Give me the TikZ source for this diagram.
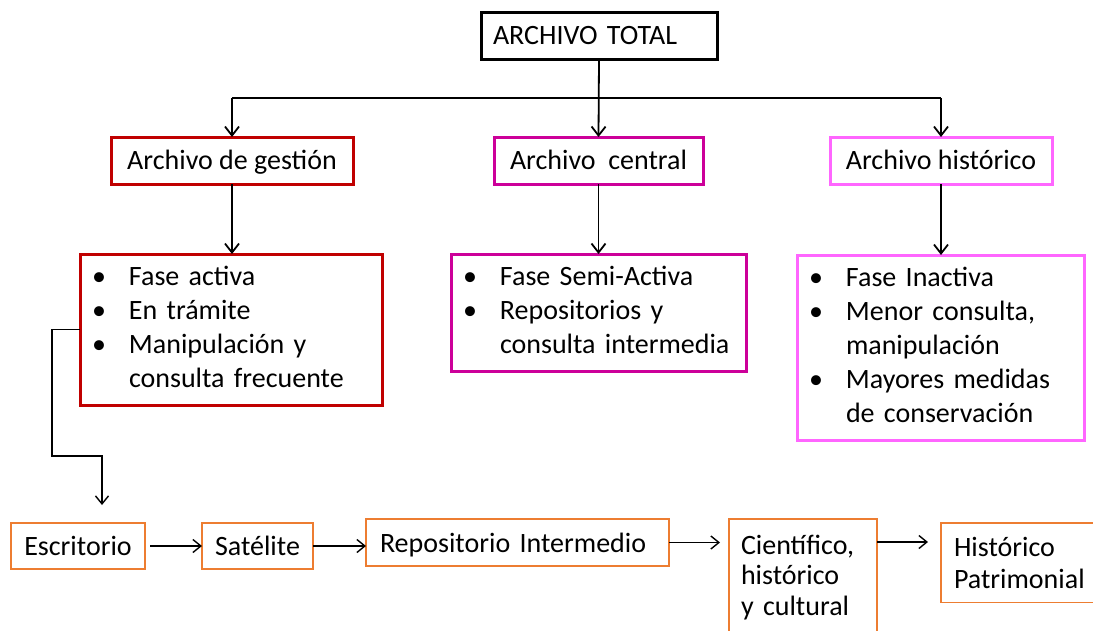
\documentclass[tikz,border=0pt]{standalone}
\usepackage{fontspec}
\setmainfont{Carlito}
\usetikzlibrary{arrows.meta}

\definecolor{gestionred}{HTML}{C00000}
\definecolor{centralmag}{HTML}{CC0099}
\definecolor{historicpink}{HTML}{FF66FF}
\definecolor{etapaorange}{HTML}{ED7D31}

\tikzset{
  every node/.style={font=\fontsize{28}{34}\selectfont},
  titlebox/.style={draw, line width=3pt, minimum height=47pt, text height=22pt, text depth=5pt, inner sep=0pt, outer sep=0pt},
  fasebox/.style={draw, line width=3pt, anchor=north west, align=left, inner xsep=12pt, inner ysep=0pt, outer sep=0pt},
  etapabox/.style={draw=etapaorange, line width=1.8pt, inner sep=0pt, outer sep=0pt},
  link/.style={line width=1.8pt, -{Straight Barb[length=9pt,width=14pt]}},
  etapalink/.style={line width=1.4pt, -{Straight Barb[length=8pt,width=13pt]}},
}
\newcommand{\fases}[1]{\begin{tabular}{@{}p{37pt}@{}l@{}}#1\end{tabular}}

\begin{document}
\begin{tikzpicture}[x=1pt,y=-1pt]
  \useasboundingbox (0,0) rectangle (1093,630);
  \clip (0,0) rectangle (1093,630);

  % niveles del archivo
  \node[titlebox, anchor=north west, text width=212pt, inner xsep=12pt, align=left] (total) at (481,12) {ARCHIVO TOTAL};
  \node[titlebox, draw=gestionred, minimum width=242pt] (gestion) at (232,160.5) {Archivo de gestión};
  \node[titlebox, draw=centralmag, minimum width=209pt] (central) at (598.5,160.5) {Archivo\ \ central};
  \node[titlebox, draw=historicpink, minimum width=222pt] (historico) at (941,160.5) {Archivo histórico};

  % fases
  \node[fasebox, draw=gestionred, text width=278pt, minimum height=151pt] (gestionfases) at (80,254)
    {\fases{\textbullet & Fase activa\\ \textbullet & En trámite\\ \textbullet & Manipulación y\\ & consulta frecuente}};
  \node[fasebox, draw=centralmag, text width=271pt, minimum height=117pt] (centralfases) at (451,254)
    {\fases{\textbullet & Fase Semi-Activa\\ \textbullet & Repositorios y\\ & consulta intermedia}};
  \node[fasebox, draw=historicpink, text width=263pt, minimum height=185pt] (historicofases) at (797,255)
    {\fases{\textbullet & Fase Inactiva\\ \textbullet & Menor consulta,\\ & manipulación\\ \textbullet & Mayores medidas\\ & de conservación}};

  \coordinate (bar) at (0,98);
  \draw[link] (total.south) -- (central.north);
  \draw[line width=1.8pt] (gestion.north |- bar) -- (historico.north |- bar);
  \draw[link] (gestion.north |- bar) -- (gestion.north);
  \draw[link] (historico.north |- bar) -- (historico.north);
  \draw[link] (gestion.south) -- (gestion.south |- gestionfases.north);
  \draw[link] (central.south) -- (central.south |- centralfases.north);
  \draw[link] (historico.south) -- (historico.south |- historicofases.north);

  % etapas
  \node[etapabox, minimum width=134pt, minimum height=46pt, text height=22pt, text depth=4pt] (escritorio) at (78,546) {Escritorio};
  \node[etapabox, minimum width=111pt, minimum height=46pt, text height=22pt, text depth=4pt] (satelite) at (257.5,546) {Satélite};
  \node[etapabox, minimum width=303pt, minimum height=47pt, text height=22pt, text depth=3pt, text width=275pt,
    inner xsep=14pt, align=left] (repositorio) at (517.5,542.5) {Repositorio Intermedio};
  \node[etapabox, anchor=north west, text width=124pt, inner xsep=12pt, inner ysep=16pt, align=left,
    font=\fontsize{28}{30.5}\selectfont] (cientifico) at (729,519) {Científico,\\ histórico\\ y cultural};
  \node[etapabox, anchor=north west, text width=140pt, inner xsep=13pt, inner ysep=14pt, align=left,
    font=\fontsize{28}{32}\selectfont] (patrimonial) at (941,523) {Histórico\\ Patrimonial};

  \coordinate (codo) at (52,456);
  \coordinate (bajada) at (102,505);
  \draw[etapalink] (gestionfases.west) -| (codo) -| (bajada);
  \draw[etapalink, shorten <=5pt] (escritorio.east) -- (satelite.west);
  \draw[etapalink] (satelite.east) -- (satelite.east -| repositorio.west);
  \draw[etapalink, shorten >=9pt] (repositorio.east) -- (repositorio.east -| cientifico.west);
  \coordinate (haciapatrimonial) at (928,542);
  \draw[etapalink] (haciapatrimonial -| cientifico.east) -- (haciapatrimonial);
\end{tikzpicture}
\end{document}
